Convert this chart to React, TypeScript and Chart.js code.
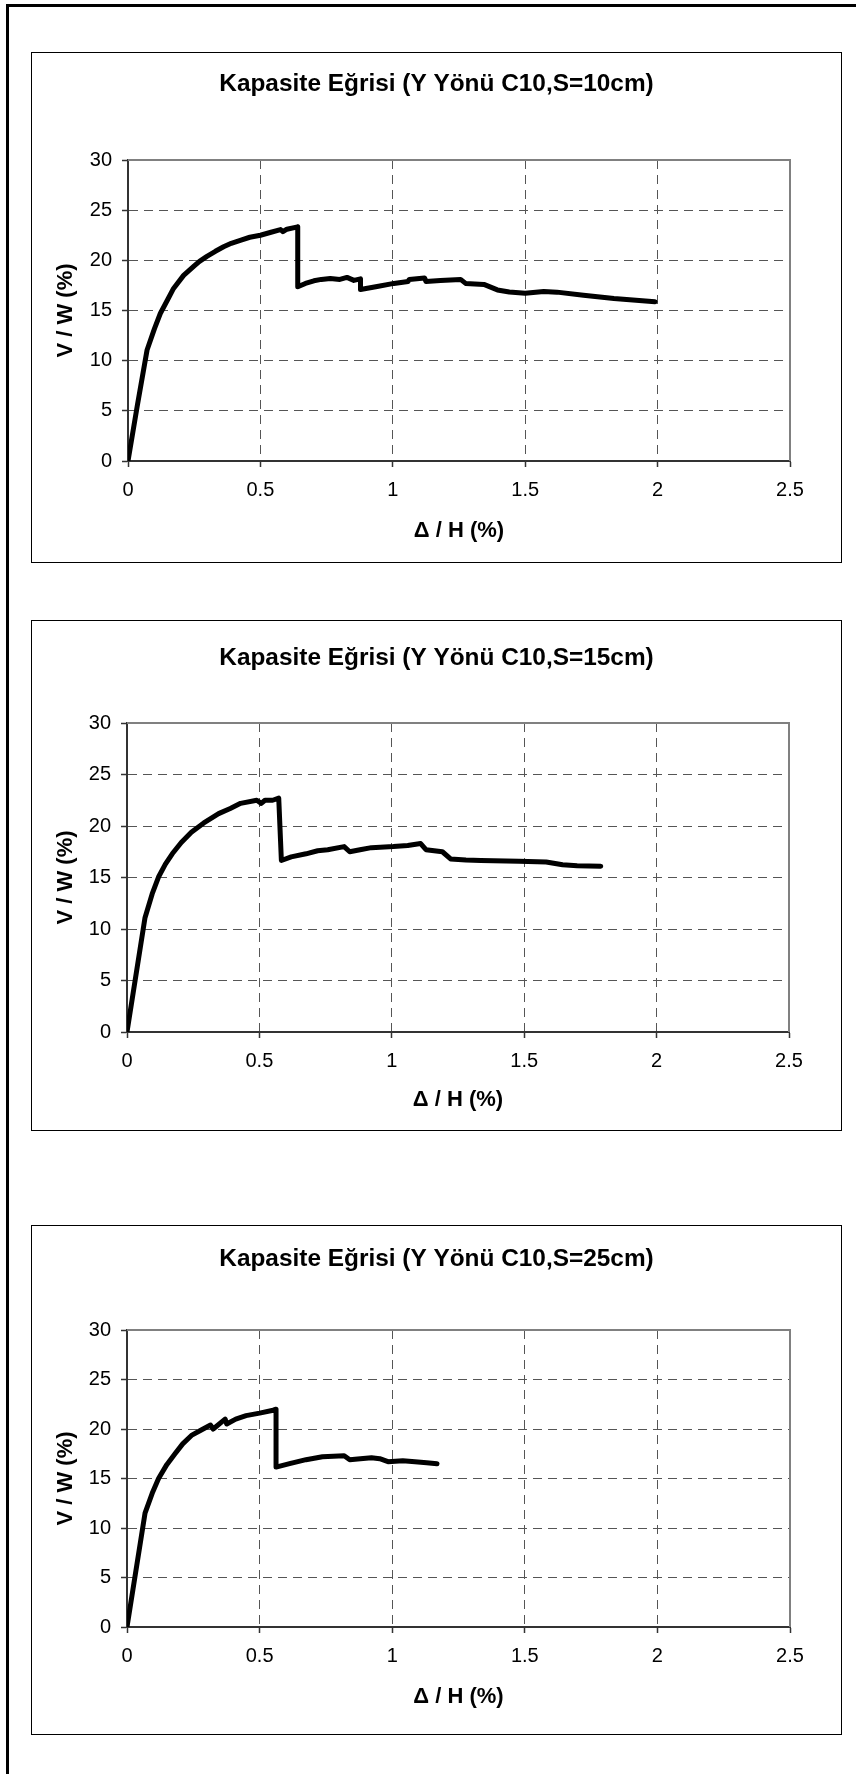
import React, { useEffect, useRef } from 'react';
import { Chart, registerables } from 'chart.js';

Chart.register(...registerables);

// ---------- data ----------
const xTickValues = [0, 0.5, 1, 1.5, 2, 2.5];
const yTickValues = [0, 5, 10, 15, 20, 25, 30];
const xAxisTitle = 'Δ / H (%)';
const yAxisTitle = 'V / W (%)';
const chartTitles = [
  'Kapasite Eğrisi (Y Yönü C10,S=10cm)',
  'Kapasite Eğrisi (Y Yönü C10,S=15cm)',
  'Kapasite Eğrisi (Y Yönü C10,S=25cm)',
];

// S = 10 cm
const s10Drift = [0, 0.035, 0.072, 0.1, 0.122, 0.15, 0.172, 0.21, 0.248, 0.27, 0.298, 0.33, 0.361, 0.39, 0.424, 0.46, 0.5, 0.54, 0.576, 0.585, 0.6, 0.641, 0.641, 0.67, 0.702, 0.73, 0.764, 0.8, 0.827, 0.853, 0.878, 0.878, 0.941, 1.004, 1.058, 1.062, 1.12, 1.125, 1.18, 1.256, 1.275, 1.344, 1.395, 1.44, 1.5, 1.57, 1.62, 1.72, 1.835, 1.99];
const s10Shear = [0, 5.5, 11.06, 13.2, 14.7, 16.1, 17.2, 18.5, 19.4, 19.9, 20.4, 20.9, 21.35, 21.7, 22.0, 22.3, 22.5, 22.8, 23.07, 22.85, 23.1, 23.34, 17.36, 17.7, 17.96, 18.1, 18.2, 18.1, 18.3, 18.0, 18.15, 17.1, 17.4, 17.7, 17.9, 18.1, 18.25, 17.9, 18.0, 18.1, 17.7, 17.6, 17.05, 16.85, 16.72, 16.9, 16.83, 16.53, 16.2, 15.87];

// S = 15 cm
const s15Drift = [0, 0.068, 0.095, 0.12, 0.145, 0.171, 0.205, 0.243, 0.29, 0.346, 0.39, 0.429, 0.49, 0.507, 0.521, 0.55, 0.573, 0.583, 0.62, 0.676, 0.72, 0.758, 0.82, 0.841, 0.88, 0.923, 1.006, 1.06, 1.109, 1.129, 1.16, 1.191, 1.222, 1.28, 1.336, 1.48, 1.583, 1.645, 1.7, 1.789];
const s15Shear = [0, 11.1, 13.4, 15.1, 16.3, 17.3, 18.4, 19.4, 20.3, 21.2, 21.7, 22.2, 22.5, 22.2, 22.5, 22.5, 22.7, 16.65, 17.0, 17.3, 17.6, 17.7, 18.0, 17.5, 17.7, 17.9, 18.0, 18.1, 18.3, 17.7, 17.6, 17.5, 16.8, 16.7, 16.65, 16.58, 16.5, 16.23, 16.15, 16.1];

// S = 25 cm
const s25Drift = [0, 0.068, 0.095, 0.119, 0.15, 0.181, 0.21, 0.243, 0.28, 0.315, 0.325, 0.37, 0.376, 0.41, 0.449, 0.5, 0.551, 0.562, 0.562, 0.613, 0.675, 0.737, 0.819, 0.84, 0.88, 0.922, 0.953, 0.984, 1.04, 1.086, 1.13, 1.169];
const s25Shear = [0, 11.5, 13.5, 15.0, 16.4, 17.5, 18.5, 19.35, 19.9, 20.4, 20.0, 21.0, 20.5, 21.0, 21.35, 21.6, 21.9, 22.0, 16.15, 16.5, 16.9, 17.2, 17.3, 16.9, 17.0, 17.1, 17.0, 16.7, 16.8, 16.7, 16.6, 16.5];

const seriesX = [s10Drift, s15Drift, s25Drift];
const seriesY = [s10Shear, s15Shear, s25Shear];

// ---------- layout (page pixels) ----------
const FONT = '"Liberation Sans", Arial, Helvetica, sans-serif';
const BOX_LEFT = 31;
const BOX_WIDTH = 811;
type Layout = {
  boxTop: number; boxHeight: number;
  plotLeft: number; plotRight: number; plotTop: number; plotBottom: number;
  titleY: number; xTitleY: number;
};
const layouts: Layout[] = [
  { boxTop: 52, boxHeight: 511, plotLeft: 128, plotRight: 790, plotTop: 160, plotBottom: 461, titleY: 84.5, xTitleY: 531 },
  { boxTop: 620, boxHeight: 511, plotLeft: 127, plotRight: 789, plotTop: 723, plotBottom: 1032, titleY: 658, xTitleY: 1100 },
  { boxTop: 1225, boxHeight: 510, plotLeft: 127, plotRight: 790, plotTop: 1330, plotBottom: 1627, titleY: 1259, xTitleY: 1697 },
];

const TITLE_SIZE = 24.4;
const AXIS_TITLE_SIZE = 22;
const TICK_SIZE = 20;
const TICK_LEN = 6;

const framePlugin = {
  id: 'frame',
  beforeDatasetsDraw(chart: any) {
    const { ctx, chartArea: a } = chart;
    ctx.save();
    ctx.strokeStyle = '#808080';
    ctx.lineWidth = 2;
    ctx.beginPath();
    ctx.moveTo(a.left, a.top);
    ctx.lineTo(a.right, a.top);
    ctx.lineTo(a.right, a.bottom);
    ctx.stroke();
    ctx.restore();
  },
};

const boxTitlePlugin = {
  id: 'boxTitle',
  afterDraw(chart: any, _args: any, opts: any) {
    const { ctx, width } = chart;
    ctx.save();
    ctx.fillStyle = '#000';
    ctx.font = `bold ${TITLE_SIZE}px ${FONT}`;
    ctx.textAlign = 'center';
    ctx.textBaseline = 'middle';
    ctx.fillText(opts.text, width / 2, opts.y);
    ctx.restore();
  },
};

function CapacityChart({ index }: { index: number }) {
  const ref = useRef<HTMLCanvasElement | null>(null);
  const L = layouts[index];
  useEffect(() => {
    if (!ref.current) return;
    const w = BOX_WIDTH;
    const h = L.boxHeight;
    const left = L.plotLeft - BOX_LEFT;
    const right = L.plotRight - BOX_LEFT;
    const top = L.plotTop - L.boxTop;
    const bottom = L.plotBottom - L.boxTop;
    const titleCenter = L.titleY - L.boxTop;
    const axisLH = AXIS_TITLE_SIZE * 1.2;
    const yTitleCenterX = 65.5 - BOX_LEFT;
    const xTitleCenter = L.xTitleY - L.boxTop;
    const tickFont = { family: FONT, size: TICK_SIZE, lineHeight: 1.2 };
    const axisFont = { family: FONT, size: AXIS_TITLE_SIZE, weight: 'bold' as const, lineHeight: 1.2 };
    const xs = seriesX[index];
    const ys = seriesY[index];
    const chart = new Chart(ref.current, {
      type: 'scatter',
      data: {
        datasets: [
          {
            data: xs.map((x, i) => ({ x, y: ys[i] })),
            showLine: true,
            borderColor: '#000',
            backgroundColor: '#000',
            borderWidth: 5,
            pointRadius: 0,
            tension: 0,
            borderJoinStyle: 'round',
            borderCapStyle: 'round',
          } as any,
        ],
      },
      options: {
        responsive: false,
        animation: false,
        events: [],
        devicePixelRatio: 1,
        layout: { padding: { left: 0, right: w - right, top: top, bottom: 0 } },
        plugins: {
          legend: { display: false },
          tooltip: { enabled: false },
          title: { display: false },
          boxTitle: { text: chartTitles[index], y: titleCenter },
        },
        scales: {
          x: {
            type: 'linear',
            min: 0,
            max: 2.5,
            afterBuildTicks: (s: any) => { s.ticks = xTickValues.map((v) => ({ value: v })); },
            afterFit: (s: any) => { s.height = h - bottom; },
            ticks: {
              font: tickFont,
              color: '#000',
              padding: 11,
              maxRotation: 0,
              autoSkip: false,
              callback: (v: any) => String(v),
            },
            grid: {
              color: (c: any) => (c.tick && (c.tick.value === 0 || c.tick.value === 2.5) ? 'rgba(0,0,0,0)' : '#555'),
              lineWidth: 1,
              drawTicks: true,
              tickLength: TICK_LEN,
              tickColor: '#333',
              tickWidth: 1.5,
            },
            border: { display: true, color: '#333', width: 2, dash: [9, 6] },
            title: {
              display: true,
              text: xAxisTitle,
              color: '#000',
              font: axisFont,
              padding: { top: 0, bottom: h - xTitleCenter - axisLH / 2 },
            },
          },
          y: {
            type: 'linear',
            min: 0,
            max: 30,
            afterBuildTicks: (s: any) => { s.ticks = yTickValues.map((v) => ({ value: v })); },
            afterFit: (s: any) => { s.width = left; },
            ticks: {
              font: tickFont,
              color: '#000',
              padding: 10,
              autoSkip: false,
              callback: (v: any) => String(v),
            },
            grid: {
              color: (c: any) => (c.tick && (c.tick.value === 0 || c.tick.value === 30) ? 'rgba(0,0,0,0)' : '#555'),
              lineWidth: 1,
              drawTicks: true,
              tickLength: TICK_LEN,
              tickColor: '#333',
              tickWidth: 1.5,
            },
            border: { display: true, color: '#333', width: 2, dash: [9, 6] },
            title: {
              display: true,
              text: yAxisTitle,
              color: '#000',
              font: axisFont,
              padding: { top: yTitleCenterX - axisLH / 2, bottom: 0 },
            },
          },
        },
      } as any,
      plugins: [framePlugin, boxTitlePlugin],
    });
    return () => chart.destroy();
  }, [index]);

  return (
    <>
      <canvas
        ref={ref}
        width={BOX_WIDTH}
        height={L.boxHeight}
        style={{ position: 'absolute', left: BOX_LEFT, top: L.boxTop, width: BOX_WIDTH, height: L.boxHeight }}
      />
      <div
        style={{
          position: 'absolute',
          left: BOX_LEFT,
          top: L.boxTop,
          width: BOX_WIDTH,
          height: L.boxHeight,
          boxSizing: 'border-box',
          border: '1px solid #000',
          pointerEvents: 'none',
        }}
      />
    </>
  );
}

export default function App() {
  return (
    <div style={{ position: 'absolute', left: 0, top: 0, width: 856, height: 1774, overflow: 'hidden', background: '#fff' }}>
      <div
        style={{
          position: 'absolute',
          left: 6,
          top: 4,
          width: 850,
          height: 1770,
          boxSizing: 'border-box',
          borderLeft: '3px solid #000',
          borderTop: '3px solid #000',
        }}
      />
      {layouts.map((_, i) => (
        <CapacityChart key={i} index={i} />
      ))}
    </div>
  );
}
